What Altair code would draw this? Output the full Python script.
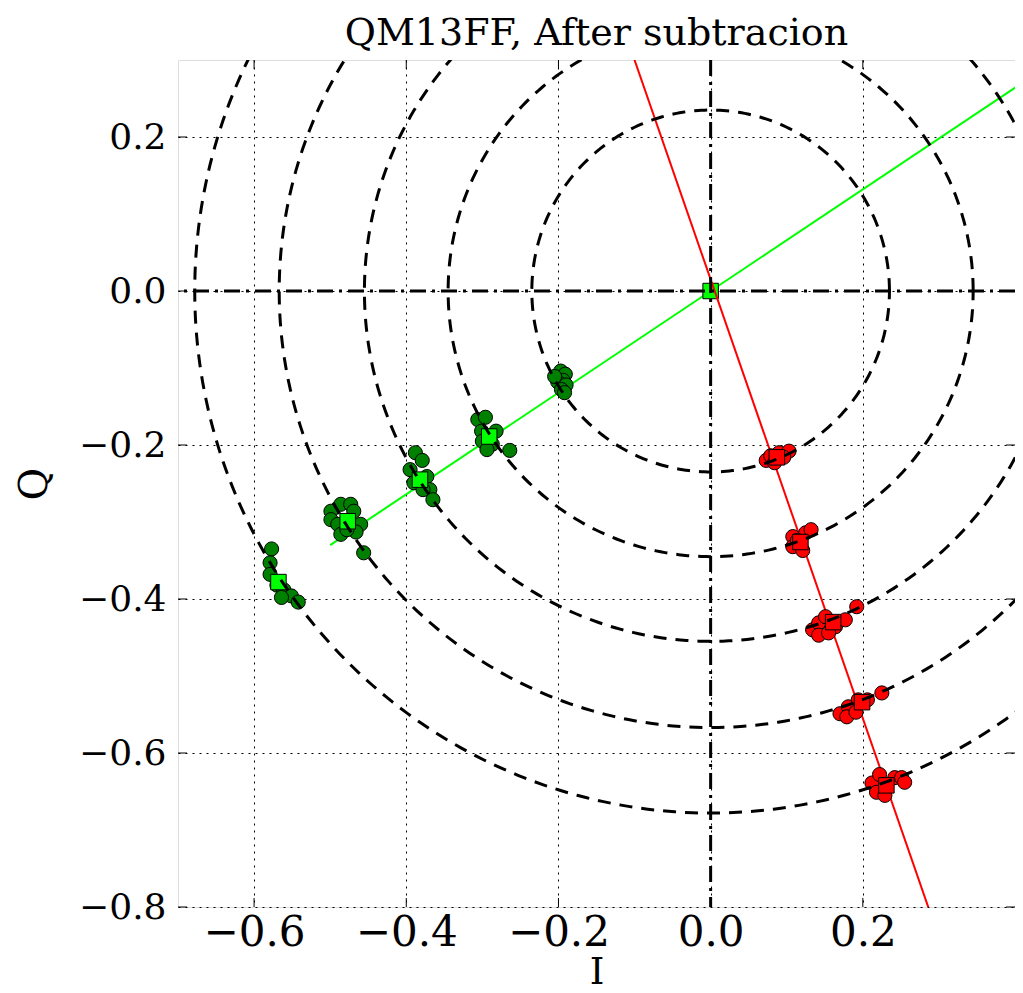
import altair as alt
import numpy as np
import pandas as pd

# ---- data ----
green_I = [-0.197, -0.191, -0.194, -0.201, -0.190, -0.196, -0.192, -0.205,
           -0.306, -0.296, -0.301, -0.282, -0.300, -0.287, -0.294, -0.264,
           -0.388, -0.379, -0.395, -0.390, -0.373, -0.369, -0.365, -0.378,
           -0.499, -0.486, -0.473, -0.469, -0.499, -0.490, -0.460, -0.466, -0.486, -0.478, -0.456,
           -0.577, -0.579, -0.579, -0.570, -0.561, -0.551, -0.542, -0.564]
green_Q = [-0.104, -0.108, -0.116, -0.118, -0.122, -0.128, -0.132, -0.111,
           -0.167, -0.164, -0.182, -0.182, -0.195, -0.199, -0.206, -0.207,
           -0.210, -0.220, -0.232, -0.249, -0.241, -0.258, -0.271, -0.258,
           -0.286, -0.277, -0.277, -0.286, -0.297, -0.303, -0.303, -0.313, -0.316, -0.310, -0.340,
           -0.335, -0.353, -0.368, -0.382, -0.388, -0.396, -0.404, -0.398]
red_I = [0.073, 0.079, 0.090, 0.103, 0.084, 0.096,
         0.108, 0.125, 0.132, 0.108, 0.121, 0.114,
         0.134, 0.142, 0.151, 0.164, 0.177, 0.192, 0.142, 0.155,
         0.170, 0.181, 0.194, 0.206, 0.225, 0.179, 0.191,
         0.212, 0.218, 0.229, 0.242, 0.251, 0.255, 0.222]
red_Q = [-0.220, -0.214, -0.210, -0.208, -0.223, -0.216,
         -0.319, -0.314, -0.310, -0.332, -0.337, -0.324,
         -0.440, -0.431, -0.423, -0.436, -0.427, -0.410, -0.447, -0.444,
         -0.549, -0.540, -0.531, -0.531, -0.522, -0.553, -0.547,
         -0.639, -0.651, -0.655, -0.632, -0.632, -0.638, -0.628]
green_mean_I = [0.0, -0.291, -0.382, -0.477, -0.568]
green_mean_Q = [0.0, -0.189, -0.245, -0.299, -0.378]
red_mean_I = [0.087, 0.118, 0.161, 0.199, 0.231]
red_mean_Q = [-0.216, -0.326, -0.430, -0.534, -0.642]
radii = [0.235, 0.345, 0.455, 0.567, 0.678]
green_line_I = [-0.50, 0.45]
green_line_Q = [-0.33, 0.297]
red_line_I = [-0.107, 0.30]
red_line_Q = [0.32, -0.84]
x_ticks = [-0.6, -0.4, -0.2, 0.0, 0.2]
y_ticks = [-0.8, -0.6, -0.4, -0.2, 0.0, 0.2]

W, H = 837, 847
FONT = "DejaVu Serif"

green_pts = pd.DataFrame({"I": green_I, "Q": green_Q})
red_pts = pd.DataFrame({"I": red_I, "Q": red_Q})
green_means = pd.DataFrame({"I": green_mean_I, "Q": green_mean_Q})
red_means = pd.DataFrame({"I": red_mean_I, "Q": red_mean_Q})
green_line = pd.DataFrame({"I": green_line_I, "Q": green_line_Q})
red_line = pd.DataFrame({"I": red_line_I, "Q": red_line_Q})

ang = np.linspace(0, 2 * np.pi, 361)
circ_rows = []
for r in radii:
    for k, a in enumerate(ang):
        circ_rows.append({"I": r * np.cos(a), "Q": r * np.sin(a), "r": r, "k": k})
circles = pd.DataFrame(circ_rows)

x_scale = alt.Scale(domain=[-0.7, 0.4], nice=False, zero=False)
y_scale = alt.Scale(domain=[-0.8, 0.3], nice=False, zero=False)

x_axis = alt.Axis(values=x_ticks, format=".1f", title="I", labelFont=FONT, labelFontSize=42,
                  labelColor="black", titleFont=FONT, titleFontSize=37, titleFontWeight="normal",
                  titleColor="black", tickSize=0, domain=False, grid=True, gridColor="black",
                  gridDash=[2, 5], gridWidth=1, gridOpacity=1, labelPadding=5,
                  titleY=76, titleBaseline="alphabetic")
y_axis = alt.Axis(values=y_ticks, format=".1f", title="Q", labelFont=FONT, labelFontSize=36,
                  labelColor="black", titleFont=FONT, titleFontSize=40, titleFontWeight="normal",
                  titleColor="black", tickSize=0, domain=False, grid=True, gridColor="black",
                  gridDash=[2, 5], gridWidth=1, gridOpacity=1, labelPadding=12, titlePadding=24)

X = alt.X("I:Q", scale=x_scale, axis=x_axis)
Y = alt.Y("Q:Q", scale=y_scale, axis=y_axis)

g_line = alt.Chart(green_line).mark_line(color="#00ff00", strokeWidth=2, clip=True).encode(x=X, y=Y)
g_pts = alt.Chart(green_pts).mark_circle(size=200, color="#008000", opacity=1, stroke="black",
                                         strokeWidth=1).encode(x=X, y=Y)
g_sq = alt.Chart(green_means).mark_square(size=240, color="#00ff00", opacity=1, stroke="black",
                                          strokeWidth=1).encode(x=X, y=Y)
r_line = alt.Chart(red_line).mark_line(color="#ff0000", strokeWidth=2, clip=True).encode(x=X, y=Y)
r_pts = alt.Chart(red_pts).mark_circle(size=200, color="#ff0000", opacity=1, stroke="black",
                                       strokeWidth=1).encode(x=X, y=Y)
r_sq = alt.Chart(red_means).mark_square(size=240, color="#ff0000", opacity=1, stroke="black",
                                        strokeWidth=1).encode(x=X, y=Y)
circ = alt.Chart(circles).mark_line(color="black", strokeWidth=3, strokeDash=[13, 9],
                                    clip=True).encode(x=X, y=Y, detail="r:N", order="k:Q")
hline = alt.Chart(pd.DataFrame({"Q": [0.0]})).mark_rule(
    color="black", strokeWidth=3, strokeDash=[16, 6, 3, 6]).encode(y=Y)
vline = alt.Chart(pd.DataFrame({"I": [0.0]})).mark_rule(
    color="black", strokeWidth=3, strokeDash=[16, 6, 3, 6]).encode(x=X)

xt = pd.DataFrame({"I": x_ticks})
yt = pd.DataFrame({"Q": y_ticks})
tick_b = alt.Chart(xt).mark_rule(color="black", strokeWidth=1).encode(
    x=X, y=alt.value(H), y2=alt.value(H - 9))
tick_t = alt.Chart(xt).mark_rule(color="black", strokeWidth=1).encode(
    x=X, y=alt.value(0), y2=alt.value(9))
tick_l = alt.Chart(yt).mark_rule(color="black", strokeWidth=1).encode(
    y=Y, x=alt.value(0), x2=alt.value(9))
tick_r = alt.Chart(yt).mark_rule(color="black", strokeWidth=1).encode(
    y=Y, x=alt.value(W), x2=alt.value(W - 9))

chart = alt.layer(
    g_line, g_pts, g_sq, r_line, r_pts, r_sq, circ, hline, vline,
    tick_b, tick_t, tick_l, tick_r
).properties(
    width=W, height=H,
    title=alt.Title("QM13FF, After subtracion", font=FONT, fontSize=38, fontWeight="normal",
                    color="black", anchor="middle", offset=6),
    autosize=alt.AutoSizeParams(type="none"),
    padding={"left": 170, "top": 52, "right": 0, "bottom": 84},
).configure_view(stroke="black", strokeWidth=1.5).configure(background="white")

chart.save("out.html", embed_options={"renderer": "svg", "actions": False})
